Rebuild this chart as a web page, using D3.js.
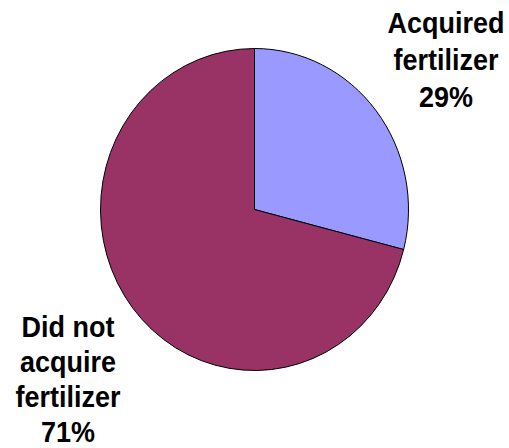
<!DOCTYPE html>
<html>
<head>
<meta charset="utf-8">
<script src="https://cdn.jsdelivr.net/npm/d3@7"></script>
<style>
	body { margin: 0; background: white; }
	text { font-family: "Liberation Sans", Arial, sans-serif; font-weight: bold; fill: black; }
</style>
</head>
<body>
<svg class="chart"></svg>
<script>
var categories = ["Acquired fertilizer", "Did not acquire fertilizer"];
var values = [29, 71];
var labelLines = [["Acquired", "fertilizer", "29%"], ["Did not", "acquire", "fertilizer", "71%"]];
var colors = ["#9999FF", "#993366"];

var chartWidth = 509;
var chartHeight = 448;
var rx = 154, ry = 161;
var cx = 254.5, cy = 209.5;

var chart = d3.select(".chart").attr("width", chartWidth).attr("height", chartHeight);

var pie = d3.pie().sort(null).value(function(d) { return d; });
var arc = d3.arc().innerRadius(0).outerRadius(rx);

// pie in the source is a little taller than wide
var pieGroup = chart.append("g")
		.attr("transform", "translate(" + cx + "," + cy + ") scale(1," + (ry / rx) + ")");

pieGroup.selectAll("path")
		.data(pie(values))
		.enter().append("path")
		.attr("d", arc)
		.attr("fill", function(d, i) { return colors[i]; })
		.attr("stroke", "black")
		.attr("stroke-width", 1)
		.attr("vector-effect", "non-scaling-stroke");

// label positions (centre x, first baseline, line step)
var labelPos = [[446, 33, 37], [68, 337, 35]];

labelLines.forEach(function(lines, i) {
	lines.forEach(function(line, j) {
		// text is stretched a bit vertically too
		chart.append("text")
				.attr("transform", "translate(" + labelPos[i][0] + "," + (labelPos[i][1] + j * labelPos[i][2]) + ") scale(1,1.12)")
				.style("font-size", "27px")
				.style("text-anchor", "middle")
				.text(line);
	});
});
</script>
</body>
</html>
